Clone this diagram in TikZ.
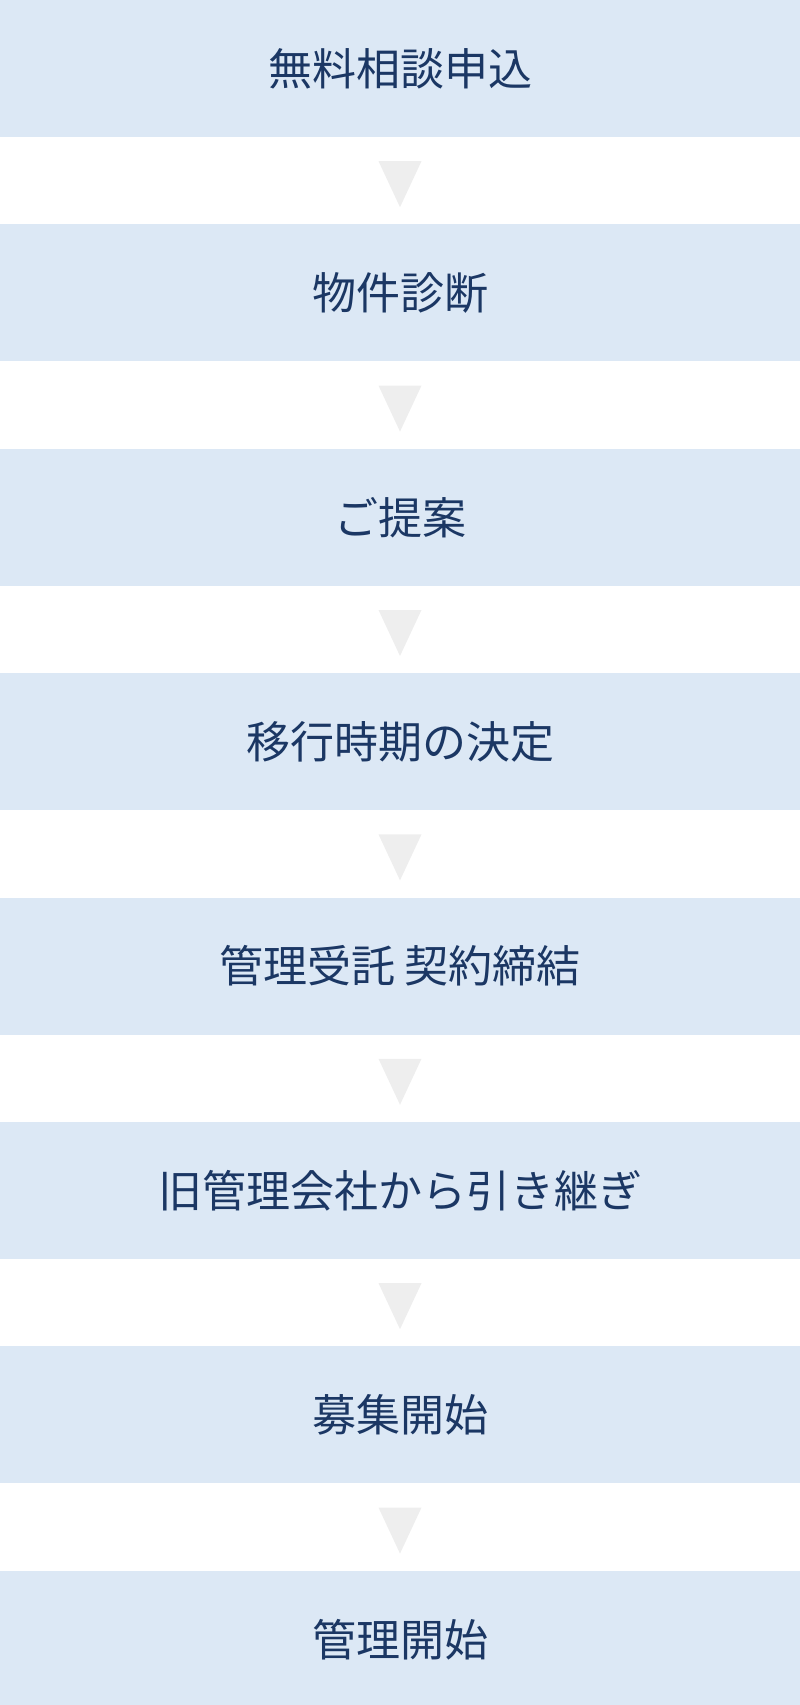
\documentclass[tikz,border=0pt]{standalone}
\usepackage{fontspec}
\usepackage{xcolor}
\usepackage{tikz}
\usetikzlibrary{positioning}
\newfontfamily\jpfont{Noto Sans CJK JP}
\definecolor{boxblue}{HTML}{DCE8F5}
\definecolor{navytext}{HTML}{1B3764}
\definecolor{trigray}{HTML}{EEEEEE}
\tikzset{
	stage box/.style={rectangle,fill=boxblue,minimum width=800pt,minimum height=137pt,
		inner sep=0pt,text=navytext,font=\jpfont\fontsize{44pt}{44pt}\selectfont},
	down tri/.style={fill=trigray}
}

\begin{document}
\begin{tikzpicture}[x=1pt,y=1pt,node distance=87pt]
	\useasboundingbox (0,0) rectangle (800,-1705);
	\node [stage box] (1) at (400,-68.5) {無料相談申込};
	\node [stage box,below=of 1] (2) {物件診断};
	\node [stage box,below=of 2] (3) {ご提案};
	\node [stage box,below=of 3] (4) {移行時期の決定};
	\node [stage box,below=of 4] (5) {管理受託 契約締結};
	\node [stage box,below=of 5] (6) {旧管理会社から引き継ぎ};
	\node [stage box,below=of 6] (7) {募集開始};
	\node [stage box,below=of 7] (8) {管理開始};
	% triangles between the steps
	\foreach \a/\b in {1/2,2/3,3/4,4/5,5/6,6/7,7/8}
		\fill [down tri] ([xshift=-21.5pt,yshift=-24pt]\a.south) -- ([xshift=21.5pt,yshift=-24pt]\a.south)
			-- ([yshift=17pt]\b.north) -- cycle;
\end{tikzpicture}
\end{document}
